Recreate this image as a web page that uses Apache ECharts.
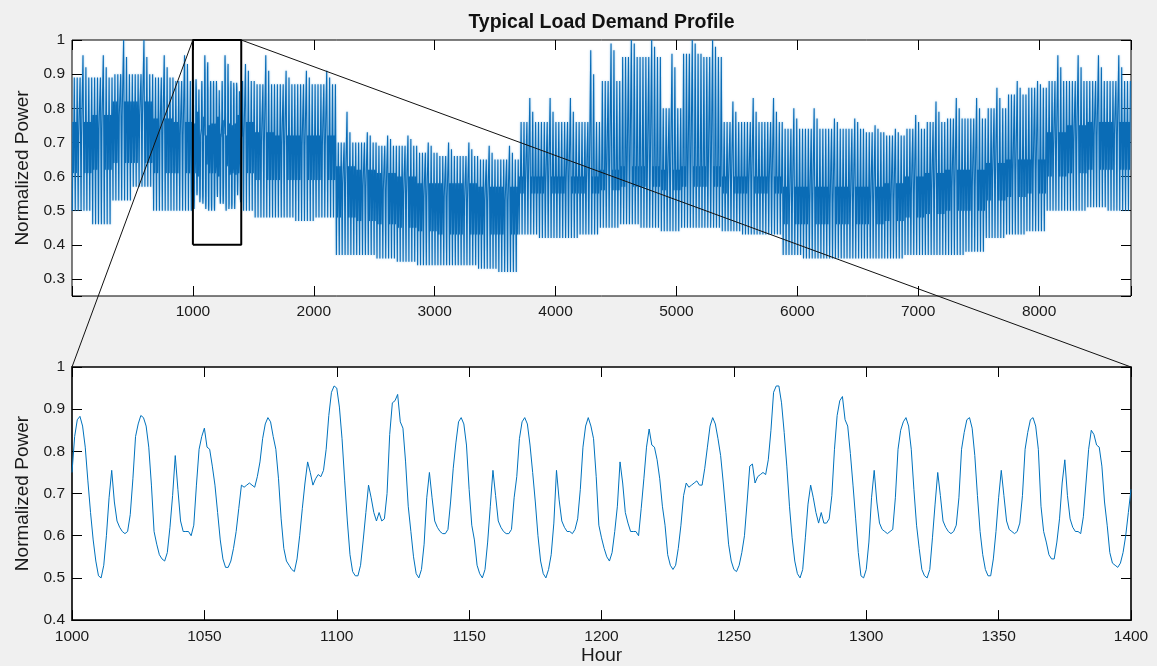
<!DOCTYPE html>
<html>
<head>
<meta charset="utf-8">
<script src="https://cdn.jsdelivr.net/npm/echarts@6/dist/echarts.min.js"></script>
<style>
html,body{margin:0;padding:0;background:#f0f0f0;}
#chart{width:1157px;height:666px;}
</style>
</head>
<body>
<div id="chart"></div>
<script>
// ---------------- text ----------------
const chartTitle = 'Typical Load Demand Profile';
const yAxisName = 'Normalized Power';
const xAxisName = 'Hour';

// ---------------- axes ----------------
const topHourRange = [0, 8760];
const topPowerRange = [0.25, 1];
const topHourTicks = [1000, 2000, 3000, 4000, 5000, 6000, 7000, 8000];
const powerTickLabels = [0.3, 0.4, 0.5, 0.6, 0.7, 0.8, 0.9, 1];
const zoomHours = [1000, 1400];      // zoomed window (also the rectangle on the top plot)
const zoomPower = [0.4, 1.0];
const zoomHourTicks = [1000, 1050, 1100, 1150, 1200, 1250, 1300, 1350, 1400];

// ---------------- hourly load, hours 1000..1400 (lower plot) ----------------
const zoomLoad = [
 0.75,0.835,0.875,0.883,0.86,0.81,0.73,0.655,
 0.59,0.54,0.505,0.50,0.53,0.60,0.69,0.755,0.68,0.635,0.62,0.61,0.605,0.61,0.65,0.735,0.835,0.865,0.885,0.88,0.86,0.81,0.72,0.61,
 0.58,0.555,0.545,0.54,0.56,0.62,0.695,0.79,0.71,0.635,0.61,0.61,0.61,0.60,0.625,0.72,0.805,0.835,0.855,0.81,0.805,0.765,0.72,0.655,
 0.59,0.545,0.525,0.525,0.54,0.57,0.61,0.665,0.72,0.715,0.72,0.725,0.72,0.715,0.74,0.775,0.83,0.865,0.88,0.87,0.835,0.805,0.735,0.64,
 0.57,0.54,0.53,0.52,0.515,0.545,0.60,0.665,0.725,0.775,0.75,0.72,0.735,0.745,0.74,0.755,0.805,0.885,0.94,0.955,0.95,0.905,0.83,0.73,
 0.635,0.555,0.515,0.505,0.505,0.53,0.59,0.655,0.72,0.69,0.655,0.635,0.655,0.635,0.64,0.70,0.84,0.915,0.92,0.935,0.87,0.855,0.775,0.67,
 0.61,0.55,0.51,0.50,0.52,0.58,0.69,0.75,0.69,0.635,0.62,0.61,0.605,0.605,0.615,0.68,0.76,0.82,0.87,0.88,0.865,0.815,0.71,0.625,
 0.59,0.53,0.51,0.50,0.52,0.585,0.67,0.755,0.695,0.635,0.62,0.61,0.605,0.605,0.615,0.69,0.74,0.83,0.87,0.88,0.865,0.815,0.75,0.68,
 0.60,0.54,0.51,0.50,0.52,0.555,0.63,0.755,0.685,0.635,0.62,0.61,0.61,0.605,0.615,0.64,0.71,0.81,0.86,0.88,0.86,0.83,0.74,0.625,
 0.595,0.57,0.55,0.54,0.56,0.61,0.67,0.775,0.725,0.655,0.63,0.61,0.61,0.61,0.60,0.665,0.735,0.81,0.853,0.815,0.81,0.78,0.735,0.67,
 0.625,0.555,0.53,0.52,0.53,0.57,0.625,0.695,0.725,0.715,0.72,0.725,0.73,0.72,0.72,0.76,0.81,0.86,0.88,0.865,0.83,0.79,0.725,0.655,
 0.58,0.54,0.52,0.515,0.53,0.56,0.60,0.68,0.765,0.77,0.725,0.74,0.745,0.75,0.745,0.78,0.85,0.94,0.955,0.955,0.915,0.845,0.765,0.67,
 0.595,0.54,0.51,0.50,0.52,0.595,0.675,0.72,0.69,0.655,0.63,0.655,0.63,0.63,0.64,0.695,0.805,0.885,0.92,0.93,0.875,0.86,0.795,0.72,
 0.64,0.56,0.505,0.50,0.52,0.585,0.69,0.755,0.68,0.63,0.615,0.61,0.605,0.61,0.615,0.69,0.805,0.85,0.87,0.88,0.86,0.805,0.71,0.625,
 0.57,0.52,0.505,0.50,0.52,0.595,0.675,0.75,0.695,0.635,0.62,0.61,0.605,0.61,0.625,0.69,0.805,0.845,0.875,0.88,0.855,0.79,0.695,0.61,
 0.555,0.52,0.505,0.505,0.545,0.61,0.69,0.755,0.695,0.635,0.615,0.61,0.605,0.61,0.63,0.695,0.805,0.845,0.875,0.88,0.86,0.805,0.67,0.61,
 0.585,0.555,0.545,0.545,0.585,0.64,0.725,0.78,0.695,0.64,0.62,0.61,0.61,0.605,0.645,0.725,0.805,0.85,0.84,0.815,0.81,0.765,0.68,0.625,
 0.56,0.535,0.53,0.525,0.535,0.56,0.60,0.655,0.71
];

// ---------------- whole-year profile, per week (upper plot) ----------------
// daily key hours: night low, morning bump, midday level, evening peak
const keyHours = [3, 7, 12, 19];
const weekPeak       = [0.89,0.89,0.90,0.90,0.89,0.88,0.88,0.88,0.88,0.87,0.87,0.87,0.87,0.70,0.70,0.69,0.69,0.67,0.66,0.66,0.65,0.65,0.76,0.76,0.76,0.76,0.88,0.95,0.95,0.80,0.96,0.95,0.76,0.76,0.76,0.74,0.74,0.74,0.74,0.73,0.72,0.74,0.76,0.77,0.77,0.80,0.84,0.86,0.88,0.88,0.88,0.88,0.88];
const weekHighPeak   = [0.955,0.955,1.00,1.00,0.955,0.955,0.955,0.955,0.93,0.955,0.91,0.91,0.91,0.79,0.73,0.72,0.72,0.70,0.70,0.70,0.69,0.69,0.83,0.83,0.83,0.97,0.99,1.00,1.00,0.96,1.00,1.00,0.82,0.83,0.83,0.80,0.80,0.77,0.77,0.75,0.74,0.78,0.82,0.83,0.83,0.86,0.88,0.88,0.955,0.955,0.955,0.955,0.955];
const weekSecondPeak = [0.92,0.92,0.95,0.95,0.92,0.93,0.93,0.93,0.91,0.91,0.89,0.89,0.89,0.73,0.72,0.71,0.71,0.69,0.68,0.68,0.67,0.67,0.79,0.79,0.79,0.90,0.97,0.99,0.98,0.92,0.99,0.98,0.79,0.79,0.79,0.77,0.77,0.76,0.76,0.74,0.73,0.76,0.79,0.80,0.80,0.83,0.86,0.87,0.92,0.92,0.92,0.92,0.92];
const weekLow        = [0.50,0.46,0.53,0.57,0.50,0.50,0.50,0.50,0.50,0.48,0.48,0.47,0.48,0.37,0.37,0.36,0.35,0.34,0.34,0.34,0.33,0.32,0.43,0.42,0.42,0.43,0.45,0.46,0.45,0.44,0.45,0.45,0.44,0.43,0.43,0.37,0.36,0.36,0.36,0.36,0.36,0.37,0.37,0.37,0.38,0.42,0.43,0.44,0.50,0.50,0.51,0.50,0.50];
const weekMorning    = [0.76,0.78,0.82,0.82,0.77,0.76,0.76,0.76,0.76,0.73,0.72,0.72,0.72,0.63,0.62,0.61,0.60,0.58,0.58,0.58,0.57,0.57,0.60,0.60,0.60,0.60,0.62,0.63,0.63,0.62,0.63,0.63,0.60,0.60,0.60,0.57,0.57,0.57,0.57,0.57,0.58,0.60,0.61,0.62,0.62,0.64,0.65,0.65,0.73,0.75,0.76,0.76,0.76];
const weekMidday     = [0.61,0.62,0.64,0.64,0.61,0.61,0.61,0.61,0.61,0.59,0.59,0.59,0.59,0.48,0.47,0.46,0.45,0.44,0.43,0.43,0.43,0.43,0.55,0.55,0.55,0.55,0.56,0.57,0.57,0.56,0.57,0.57,0.55,0.55,0.55,0.46,0.46,0.46,0.46,0.46,0.47,0.48,0.49,0.50,0.50,0.53,0.54,0.55,0.60,0.61,0.62,0.62,0.62];
const weekendLevel   = [0.72,0.74,0.78,0.78,0.72,0.72,0.73,0.73,0.72,0.70,0.69,0.69,0.69,0.58,0.57,0.56,0.55,0.54,0.54,0.53,0.53,0.53,0.58,0.58,0.58,0.58,0.60,0.60,0.60,0.59,0.60,0.60,0.58,0.58,0.58,0.52,0.52,0.52,0.52,0.52,0.53,0.55,0.56,0.57,0.57,0.60,0.61,0.62,0.68,0.70,0.72,0.72,0.72];

// ---------------- build series tables ----------------
const zoomSeries = zoomLoad.map((v, i) => [zoomHours[0] + i, v]);
const yearSeries = [];
for (let d = 0; d < 365; d++) {
  const w = Math.floor(d / 7), k = d % 7;
  const weekend = (k === 2 || k === 3);
  const vals = [
    weekLow[w],
    weekend ? weekendLevel[w] : weekMorning[w],
    weekend ? weekendLevel[w] : weekMidday[w],
    k === 3 ? weekHighPeak[w] : (k === 4 ? weekSecondPeak[w] : weekPeak[w])
  ];
  keyHours.forEach((h, j) => {
    const hr = 24 * d + h;
    if (hr < zoomHours[0] || hr > zoomHours[1]) yearSeries.push([hr, vals[j]]);
  });
}
zoomSeries.forEach(p => yearSeries.push(p));
yearSeries.sort((a, b) => a[0] - b[0]);
const zoomBox = [
  [zoomHours[0], zoomPower[0]], [zoomHours[0], zoomPower[1]],
  [zoomHours[1], zoomPower[1]], [zoomHours[1], zoomPower[0]],
  [zoomHours[0], zoomPower[0]]
];

// ---------------- chart ----------------
const FONT = '"Liberation Sans", Arial, Helvetica, sans-serif';
const TXT = '#1a1a1a';
const tick = { show: true, inside: true, length: 10, lineStyle: { color: '#000', width: 1 } };
const noLine = { show: false, onZero: false };
const near = (a, b) => Math.abs(a - b) < 1e-6;
const powerFmt = v => powerTickLabels.some(t => near(t, v)) ? String(+v.toFixed(1)) : '';
const lbl = { fontFamily: FONT, fontSize: 15.5, color: TXT };
const nameStyle = { fontFamily: FONT, fontSize: 19, color: TXT };

const chart = echarts.init(document.getElementById('chart'), null, { renderer: 'canvas', devicePixelRatio: 1 });

const grids = [
  { left: 72, top: 40, width: 1059, height: 256, show: true, backgroundColor: '#fff', borderColor: '#000', borderWidth: 1 },
  { left: 72, top: 367, width: 1059, height: 255, show: true, backgroundColor: '#fff', borderColor: '#000', borderWidth: 1.6 }
];

const option = {
  animation: false,
  backgroundColor: '#f0f0f0',
  title: {
    text: chartTitle, left: 601.5, top: 13, textAlign: 'center', padding: 0,
    textStyle: { fontFamily: FONT, fontSize: 19.5, fontWeight: 'bold', color: '#111' }
  },
  grid: grids,
  xAxis: [
    { type: 'value', gridIndex: 0, position: 'bottom', min: topHourRange[0], max: topHourRange[1], interval: 1000,
      axisLine: noLine, splitLine: { show: false }, axisTick: tick,
      axisLabel: Object.assign({ margin: 8, formatter: v => topHourTicks.includes(v) ? String(v) : '' }, lbl) },
    { type: 'value', gridIndex: 0, position: 'top', min: topHourRange[0], max: topHourRange[1], interval: 1000,
      axisLine: noLine, splitLine: { show: false }, axisTick: tick, axisLabel: { show: false } },
    { type: 'value', gridIndex: 1, position: 'bottom', min: zoomHours[0], max: zoomHours[1], interval: 50,
      axisLine: noLine, splitLine: { show: false }, axisTick: tick,
      name: xAxisName, nameLocation: 'middle', nameGap: 25, nameTextStyle: nameStyle,
      axisLabel: Object.assign({ margin: 9, formatter: v => zoomHourTicks.includes(v) ? String(v) : '' }, lbl) },
    { type: 'value', gridIndex: 1, position: 'top', min: zoomHours[0], max: zoomHours[1], interval: 50,
      axisLine: noLine, splitLine: { show: false }, axisTick: tick, axisLabel: { show: false } }
  ],
  yAxis: [
    { type: 'value', gridIndex: 0, position: 'left', min: topPowerRange[0], max: topPowerRange[1], splitNumber: 7,
      axisLine: noLine, splitLine: { show: false }, axisTick: tick,
      name: yAxisName, nameLocation: 'middle', nameGap: 34, nameTextStyle: nameStyle,
      axisLabel: Object.assign({ margin: 7, formatter: powerFmt }, lbl) },
    { type: 'value', gridIndex: 0, position: 'right', min: topPowerRange[0], max: topPowerRange[1], splitNumber: 7,
      axisLine: noLine, splitLine: { show: false }, axisTick: tick, axisLabel: { show: false } },
    { type: 'value', gridIndex: 1, position: 'left', min: zoomPower[0], max: zoomPower[1], interval: 0.1,
      axisLine: noLine, splitLine: { show: false }, axisTick: tick,
      name: yAxisName, nameLocation: 'middle', nameGap: 34, nameTextStyle: nameStyle,
      axisLabel: Object.assign({ margin: 7, formatter: powerFmt }, lbl) },
    { type: 'value', gridIndex: 1, position: 'right', min: zoomPower[0], max: zoomPower[1], interval: 0.1,
      axisLine: noLine, splitLine: { show: false }, axisTick: tick, axisLabel: { show: false } }
  ],
  series: [
    { type: 'line', xAxisIndex: 0, yAxisIndex: 0, data: yearSeries, showSymbol: false, symbol: 'none',
      clip: true, z: 2, silent: true,
      lineStyle: { color: '#0a6cb6', width: 1.1, shadowBlur: 2, shadowColor: 'rgba(70,155,220,0.7)' } },
    { type: 'line', xAxisIndex: 0, yAxisIndex: 0, data: zoomBox, showSymbol: false, symbol: 'none',
      clip: false, lineStyle: { color: '#000', width: 2 }, z: 5, silent: true },
    { type: 'line', xAxisIndex: 2, yAxisIndex: 2, data: zoomSeries, showSymbol: false, symbol: 'none',
      clip: true, lineStyle: { color: '#0072BD', width: 1 }, z: 2, silent: true }
  ]
};
chart.setOption(option);

// connector lines from the zoom rectangle to the lower plot corners
const topLeft  = chart.convertToPixel({ xAxisIndex: 0, yAxisIndex: 0 }, [zoomHours[0], zoomPower[1]]);
const topRight = chart.convertToPixel({ xAxisIndex: 0, yAxisIndex: 0 }, [zoomHours[1], zoomPower[1]]);
const botLeft  = chart.convertToPixel({ xAxisIndex: 2, yAxisIndex: 2 }, [zoomHours[0], zoomPower[1]]);
const botRight = chart.convertToPixel({ xAxisIndex: 2, yAxisIndex: 2 }, [zoomHours[1], zoomPower[1]]);
chart.setOption({
  graphic: [
    { type: 'line', z: 100, silent: true, shape: { x1: topLeft[0], y1: topLeft[1], x2: botLeft[0], y2: botLeft[1] },
      style: { stroke: '#111', lineWidth: 1 } },
    { type: 'line', z: 100, silent: true, shape: { x1: topRight[0], y1: topRight[1], x2: botRight[0], y2: botRight[1] },
      style: { stroke: '#111', lineWidth: 1 } }
  ]
});
</script>
</body>
</html>
